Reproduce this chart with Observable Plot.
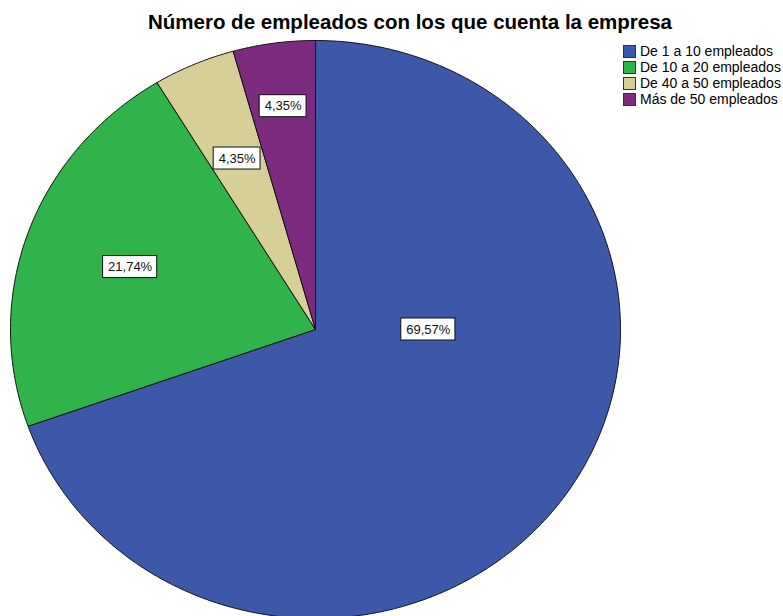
<!DOCTYPE html>
<html>
<head>
<meta charset="utf-8">
<script src="https://cdn.jsdelivr.net/npm/d3@7"></script>
<script src="https://cdn.jsdelivr.net/npm/@observablehq/plot@0.6"></script>
<style>
  html, body { margin: 0; padding: 0; background: white; overflow: hidden; }
  #wrap { position: relative; width: 783px; height: 616px; font-family: "Liberation Sans", Arial, sans-serif; }
  #title { position: absolute; left: 410px; top: 10px; transform: translateX(-50%); white-space: nowrap;
           font-weight: bold; font-size: 20.5px; line-height: 24px; color: #000; }
  #legend { position: absolute; left: 623px; top: 43px; font-size: 14px; color: #000; }
  .row { display: flex; align-items: center; height: 16px; }
  .sw { width: 13px; height: 13px; box-sizing: border-box; border: 1px solid #333; margin-right: 4px; }
</style>
</head>
<body>
<div id="wrap">
  <div id="chart"></div>
  <div id="title">Número de empleados con los que cuenta la empresa</div>
  <div id="legend"></div>
</div>
<script>
// ---- data ----
const categories = ["De 1 a 10 empleados", "De 10 a 20 empleados", "De 40 a 50 empleados", "Más de 50 empleados"];
const counts = [16, 5, 1, 1];
const percentLabels = ["69,57%", "21,74%", "4,35%", "4,35%"];
const colors = ["#3d58a9", "#2fb34a", "#d6cf98", "#7c2b7e"];

// ---- layout ----
const W = 783, H = 616;
const RX = 305, RY = 289;   // pie radii in px (slightly flattened, as in the reference)
const cx = 315, cy = 329;   // pie centre in px
const xDomain = [-cx / RX, (W - cx) / RX];
const yDomain = [-(H - cy) / RY, cy / RY];

const pie = d3.pie().sort(null).value(d => d.count)(categories.map((c, i) => ({category: c, count: counts[i], label: percentLabels[i]})));

// slice polygons (angle clockwise from 12 o'clock, unit circle, y up)
const polys = [];
for (const s of pie) {
  const cat = s.data.category;
  polys.push({category: cat, x: 0, y: 0});
  const n = Math.max(4, Math.ceil((s.endAngle - s.startAngle) / (Math.PI / 360)));
  for (let k = 0; k <= n; k++) {
    const a = s.startAngle + (s.endAngle - s.startAngle) * k / n;
    polys.push({category: cat, x: Math.sin(a), y: Math.cos(a)});
  }
  polys.push({category: cat, x: 0, y: 0});
}

// label placement: mid-angle at 0.645R; majority slice labelled along the horizontal;
// labels pushed outward while they are too close to an earlier one
const ctx = document.createElement("canvas").getContext("2d");
ctx.font = "13px 'Liberation Sans', Arial, sans-serif";
const padPx = 5, halfHPx = 11;
const labels = [];
for (const s of pie) {
  let a = (s.startAngle + s.endAngle) / 2, r = 0.645;
  if (s.endAngle - s.startAngle > Math.PI) { a = Math.PI / 2; r = 0.37; }
  const hwPx = ctx.measureText(s.data.label).width / 2 + padPx;
  const lab = {label: s.data.label, hw: hwPx / RX, hh: halfHPx / RY, hwPx};
  const place = () => { lab.x = r * Math.sin(a); lab.y = r * Math.cos(a); };
  place();
  const overlaps = () => labels.some(o =>
    Math.abs(o.x - lab.x) * RX < o.hwPx + lab.hwPx + 15 &&
    Math.abs(o.y - lab.y) * RY < 4 * halfHPx + 8);
  while (overlaps() && r < 0.95) { r += 0.005; place(); }
  labels.push(lab);
}

const chart = Plot.plot({
  width: W, height: H,
  margin: 0,
  x: {domain: xDomain, axis: null},
  y: {domain: yDomain, axis: null},
  color: {domain: categories, range: colors},
  marks: [
    Plot.line(polys, {x: "x", y: "y", z: "category", fill: "category", stroke: "#111", strokeWidth: 1, strokeLinejoin: "round", clip: true}),
    Plot.rect(labels, {x1: d => d.x - d.hw, x2: d => d.x + d.hw, y1: d => d.y - d.hh, y2: d => d.y + d.hh,
                       fill: "white", stroke: "#111", strokeWidth: 1}),
    Plot.text(labels, {x: "x", y: "y", text: "label", fontSize: 13, fill: "#111",
                       fontFamily: "'Liberation Sans', Arial, sans-serif"})
  ]
});
document.getElementById("chart").appendChild(chart);

const lg = document.getElementById("legend");
categories.forEach((c, i) => {
  const row = document.createElement("div");
  row.className = "row";
  row.innerHTML = `<span class="sw" style="background:${colors[i]}"></span><span>${c}</span>`;
  lg.appendChild(row);
});
</script>
</body>
</html>
